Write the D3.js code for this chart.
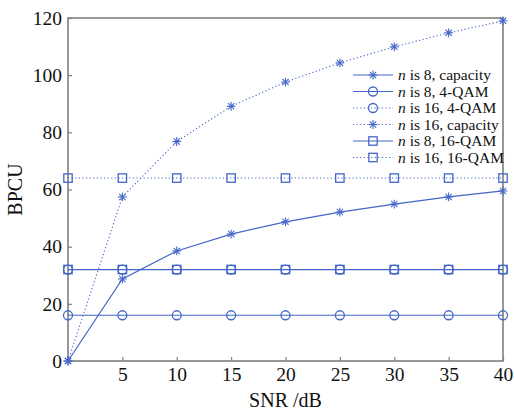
<!DOCTYPE html>
<html><head><meta charset="utf-8">
<script src="https://cdn.jsdelivr.net/npm/d3@7"></script>
<style>body{margin:0;background:#fff}svg{display:block}</style>
</head><body>
<svg id="c" width="514" height="412"></svg>
<script>
const snr = [0,5,10,15,20,25,30,35,40];
const cap8 = [0,28.7,38.5,44.4,48.7,52.1,54.9,57.4,59.5];
const qam4n8 = [16,16,16,16,16,16,16,16,16];
const qam4n16 = [32,32,32,32,32,32,32,32,32];
const cap16 = [0,57.4,76.8,89.1,97.6,104.3,109.9,114.8,119];
const qam16n8 = [32,32,32,32,32,32,32,32,32];
const qam16n16 = [64,64,64,64,64,64,64,64,64];
const xTicks = [5,10,15,20,25,30,35,40];
const yTicks = [0,20,40,60,80,100,120];
const seriesNames = ["n is 8, capacity","n is 8, 4-QAM","n is 16, 4-QAM","n is 16, capacity","n is 8, 16-QAM","n is 16, 16-QAM"];

const series = [
  {name:seriesNames[0], vals:cap8, dotted:false, mark:"star"},
  {name:seriesNames[1], vals:qam4n8, dotted:false, mark:"circle"},
  {name:seriesNames[2], vals:qam4n16, dotted:true, mark:"circle"},
  {name:seriesNames[3], vals:cap16, dotted:true, mark:"star"},
  {name:seriesNames[4], vals:qam16n8, dotted:false, mark:"square"},
  {name:seriesNames[5], vals:qam16n16, dotted:true, mark:"square"}
];

const col = "#4466c8";
const font = "'Liberation Serif', 'Times New Roman', serif";
const svg = d3.select("#c");
const L=68, R=503, T=18, B=361;
const x = d3.scaleLinear().domain([0,40]).range([L,R]);
const y = d3.scaleLinear().domain([0,120]).range([B,T]);

const axCol="#7f7f7f";
svg.append("rect").attr("x",L).attr("y",T).attr("width",R-L).attr("height",B-T)
  .attr("fill","none").attr("stroke",axCol).attr("stroke-width",1.6);

const xa = svg.append("g").attr("transform",`translate(0,${B})`)
  .call(d3.axisBottom(x).tickValues(xTicks).tickSizeInner(-4).tickSizeOuter(0).tickPadding(6));
const ya = svg.append("g").attr("transform",`translate(${L},0)`)
  .call(d3.axisLeft(y).tickValues(yTicks).tickSizeInner(-4).tickSizeOuter(0).tickPadding(6));
[xa,ya].forEach(a=>{
  a.attr("font-family",null).attr("font-size",null);
  a.select(".domain").remove();
  a.selectAll(".tick line").attr("stroke",axCol).attr("stroke-width",1.2);
  a.selectAll(".tick text").attr("font-family",font).attr("font-size",19.5).attr("fill","#111");
});

svg.append("text").attr("x",(L+R)/2).attr("y",407).attr("text-anchor","middle")
  .attr("font-family",font).attr("font-size",20).attr("fill","#111").text("SNR /dB");
svg.append("text").attr("transform",`translate(22,${(T+B)/2}) rotate(-90)`).attr("text-anchor","middle")
  .attr("font-family",font).attr("font-size",20).attr("fill","#111").text("BPCU");

function drawMark(g, type, cx, cy){
  if(type==="circle"){
    g.append("circle").attr("cx",cx).attr("cy",cy).attr("r",4.5)
      .attr("fill","none").attr("stroke",col).attr("stroke-width",1.3);
  } else if(type==="square"){
    g.append("rect").attr("x",cx-4.2).attr("y",cy-4.2).attr("width",8.4).attr("height",8.4)
      .attr("fill","none").attr("stroke",col).attr("stroke-width",1.3);
  } else {
    const r=4.4;
    for(let k=0;k<4;k++){
      const a = k*Math.PI/4 + Math.PI/2;
      g.append("line").attr("x1",cx-r*Math.cos(a)).attr("y1",cy-r*Math.sin(a))
        .attr("x2",cx+r*Math.cos(a)).attr("y2",cy+r*Math.sin(a))
        .attr("stroke",col).attr("stroke-width",1.1);
    }
  }
}

const line = d3.line().x((d,i)=>x(snr[i])).y(d=>y(d));
series.forEach(s=>{
  const g = svg.append("g");
  g.append("path").attr("d",line(s.vals)).attr("fill","none").attr("stroke",col)
    .attr("stroke-width",s.dotted?1.1:1.2).attr("stroke-dasharray",s.dotted?"1.2 2.4":null);
  s.vals.forEach((v,i)=>drawMark(g,s.mark,x(snr[i]),y(v)));
});

const lg = svg.append("g");
series.forEach((s,i)=>{
  const ly = 75 + i*16.5;
  lg.append("line").attr("x1",353).attr("x2",393).attr("y1",ly).attr("y2",ly)
    .attr("stroke",col).attr("stroke-width",s.dotted?1.1:1.2).attr("stroke-dasharray",s.dotted?"1.2 2.4":null);
  drawMark(lg,s.mark,373,ly);
  const t = lg.append("text").attr("x",398).attr("y",ly+5).attr("font-family",font)
    .attr("font-size",15.5).attr("fill","#111");
  const parts = s.name.split(" is ");
  t.append("tspan").attr("font-style","italic").text(parts[0]);
  t.append("tspan").text(" is "+parts[1]);
});
</script>
</body></html>
